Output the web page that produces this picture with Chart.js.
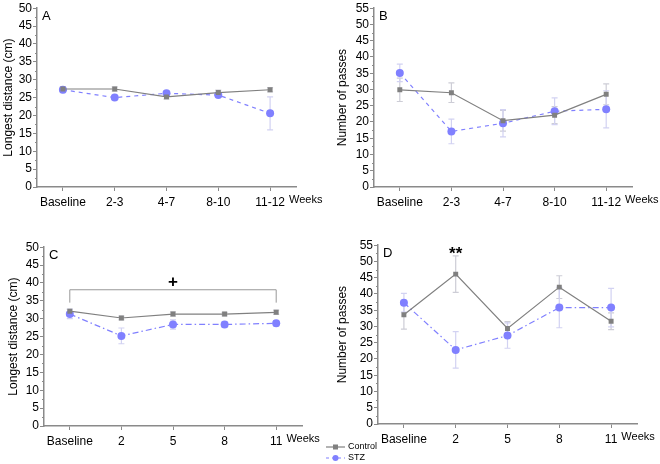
<!DOCTYPE html>
<html>
<head>
<meta charset="utf-8">
<script src="https://cdn.jsdelivr.net/npm/chart.js@4.4.1/dist/chart.umd.min.js"></script>
<style>
  body { margin: 0; background: #fff; }
  #wrap { position: relative; width: 660px; height: 464px; overflow: hidden; }
  canvas { position: absolute; }
  #legend { position: absolute; left: 326px; top: 441px; font: 9px "Liberation Sans", Arial, sans-serif; color: #000; line-height: 11px; }
  #legend div { display: flex; align-items: center; height: 11px; }
  #legend svg { margin-right: 3px; }
</style>
</head>
<body>
<div id="wrap">
  <canvas id="chartA" width="330" height="210" style="left:0;top:0"></canvas>
  <canvas id="chartB" width="330" height="210" style="left:330px;top:0"></canvas>
  <canvas id="chartC" width="330" height="210" style="left:0;top:239px"></canvas>
  <canvas id="chartD" width="330" height="210" style="left:330px;top:237px"></canvas>
  <div id="legend">
    <div><svg width="19" height="8"><line x1="0" y1="4" x2="19" y2="4" stroke="#808080" stroke-width="1.2"/><rect x="7" y="1.5" width="5" height="5" fill="#808080"/></svg>Control</div>
    <div><svg width="19" height="8"><line x1="0" y1="4" x2="19" y2="4" stroke="#8080ff" stroke-width="1.2" stroke-dasharray="3,3"/><circle cx="9.5" cy="4" r="3" fill="#8080ff"/></svg>STZ</div>
  </div>
</div>
<script>
// Graficas A-D: Control vs STZ

const weeksAB = ['Baseline', '2-3', '4-7', '8-10', '11-12'];
const weeksCD = ['Baseline', '2', '5', '8', '11'];

// A - longest distance
const controlA = [27.4, 27.4, 25.2, 26.4, 27.2];
const controlAErr = [0.7, 0.6, 0.6, 0.7, 0.6];
const stzA = [27.2, 25.0, 26.2, 25.7, 20.6];
const stzAErr = [0.8, 0.6, 0.7, 0.6, 4.6];

// B - number of passes
const controlB = [29.9, 29.0, 20.4, 22.1, 28.5];
const controlBErr = [3.6, 3.0, 3.2, 2.6, 3.2];
const stzB = [35.1, 17.1, 19.6, 23.3, 23.9];
const stzBErr = [2.7, 3.8, 4.2, 4.1, 5.7];

// C - longest distance
const controlC = [32.1, 30.2, 31.3, 31.3, 31.8];
const controlCErr = [0.6, 0.5, 0.6, 0.5, 0.6];
const stzC = [31.3, 25.2, 28.4, 28.4, 28.7];
const stzCErr = [1.3, 2.2, 1.3, 0.8, 0.8];

// D - number of passes
const controlD = [33.6, 46.1, 29.4, 42.1, 31.6];
const controlDErr = [4.4, 5.6, 2.1, 3.5, 2.6];
const stzD = [37.3, 22.8, 27.2, 35.8, 35.8];
const stzDErr = [2.9, 5.6, 3.9, 6.2, 5.9];

const GRAY = '#808080';
const BLUE = '#8080ff';
const AXIS = '#8a8a8a';
const FONT = '"Liberation Sans", Arial, sans-serif';

Chart.defaults.font.family = FONT;
Chart.defaults.color = '#000';

// error bars (drawn under the lines)
const errBars = {
  id: 'errbars',
  beforeDatasetsDraw(chart, args, opts) {
    const ctx = chart.ctx;
    const xs = chart.scales.x, ys = chart.scales.y;
    ctx.save();
    ctx.lineWidth = 1.2;
    chart.data.datasets.forEach((ds, di) => {
      const errs = opts.errs[di];
      ctx.strokeStyle = di === 0 ? '#cdcdd6' : '#d2d2f2';
      ds.data.forEach((p, i) => {
        const x = xs.getPixelForValue(p.x);
        const y1 = ys.getPixelForValue(p.y - errs[i]);
        const y2 = ys.getPixelForValue(p.y + errs[i]);
        ctx.beginPath();
        ctx.moveTo(x, y1); ctx.lineTo(x, y2);
        ctx.moveTo(x - 3, y1); ctx.lineTo(x + 3, y1);
        ctx.moveTo(x - 3, y2); ctx.lineTo(x + 3, y2);
        ctx.stroke();
      });
    });
    ctx.restore();
  }
};

// panel letter, "Weeks", minor ticks, significance marks
const marks = {
  id: 'marks',
  afterDraw(chart, args, opts) {
    const ctx = chart.ctx;
    const a = chart.chartArea;
    const xs = chart.scales.x, ys = chart.scales.y;
    const labels = opts.labels;
    ctx.save();
    // minor ticks
    ctx.strokeStyle = AXIS;
    ctx.lineWidth = 1;
    for (let v = 2.5; v < ys.max; v += 5) {
      const y = Math.round(ys.getPixelForValue(v)) + 0.5;
      ctx.beginPath();
      ctx.moveTo(a.left - 2, y); ctx.lineTo(a.left, y);
      ctx.stroke();
    }
    ctx.fillStyle = '#000';
    ctx.textBaseline = 'middle';
    ctx.textAlign = 'left';
    ctx.font = '13px ' + FONT;
    ctx.fillText(opts.letter, a.left + 5, a.top + 8);
    // "Weeks" just after the last tick label
    ctx.font = '12px ' + FONT;
    const last = labels.length - 1;
    const lastW = ctx.measureText(labels[last]).width;
    const wx = xs.getPixelForValue(last) + lastW / 2 + 4;
    ctx.font = '11px ' + FONT;
    ctx.fillText('Weeks', wx, a.bottom + 13);
    if (opts.bracket) {
      const b = opts.bracket;
      const x1 = xs.getPixelForValue(b.from), x2 = xs.getPixelForValue(b.to);
      const yt = ys.getPixelForValue(b.top), yb = ys.getPixelForValue(b.bottom);
      ctx.strokeStyle = '#999';
      ctx.lineWidth = 1;
      ctx.beginPath();
      ctx.moveTo(x1, yb); ctx.lineTo(x1, yt); ctx.lineTo(x2, yt); ctx.lineTo(x2, yb);
      ctx.stroke();
    }
    if (opts.sig) {
      const s = opts.sig;
      ctx.textAlign = 'center';
      ctx.font = 'bold 17px ' + FONT;
      ctx.fillText(s.text, xs.getPixelForValue(s.x), ys.getPixelForValue(s.y));
    }
    ctx.restore();
  }
};

function toPts(vals) {
  return vals.map((v, i) => ({ x: i, y: v }));
}

function renderPanel(canvasId, cfg) {
  const canvas = document.getElementById(canvasId);
  const labels = cfg.labels;
  new Chart(canvas, {
    type: 'line',
    data: {
      datasets: [
        {
          label: 'Control',
          data: toPts(cfg.control),
          borderColor: GRAY,
          backgroundColor: GRAY,
          borderWidth: 1.2,
          pointStyle: 'rect',
          pointRadius: 3.5,
          pointBorderWidth: 0,
          tension: 0
        },
        {
          label: 'STZ',
          data: toPts(cfg.stz),
          borderColor: BLUE,
          backgroundColor: BLUE,
          borderWidth: 1.2,
          borderDash: cfg.dash,
          pointStyle: 'circle',
          pointRadius: 4,
          pointBorderWidth: 0,
          tension: 0
        }
      ]
    },
    options: {
      responsive: false,
      animation: false,
      devicePixelRatio: 1,
      layout: { padding: { top: 7, right: cfg.padRight, left: 0, bottom: 0 } },
      plugins: {
        legend: { display: false },
        tooltip: { enabled: false },
        errbars: { errs: [cfg.controlErr, cfg.stzErr] },
        marks: { letter: cfg.letter, labels: labels, bracket: cfg.bracket, sig: cfg.sig }
      },
      scales: {
        x: {
          type: 'linear',
          min: -0.5,
          max: 4.5,
          afterBuildTicks: (s) => { s.ticks = labels.map((l, i) => ({ value: i })); },
          afterFit: (s) => { s.height = 23; },
          ticks: {
            callback: (val) => labels[val],
            font: { size: 12 },
            padding: 4,
            maxRotation: 0,
            autoSkip: false
          },
          grid: { drawOnChartArea: false, tickLength: 4, color: AXIS },
          border: { color: AXIS, width: 1.5 }
        },
        y: {
          min: 0,
          max: cfg.yMax,
          afterFit: (s) => { s.width = cfg.yWidth; },
          ticks: { stepSize: 5, font: { size: 12 }, padding: 1, autoSkip: false },
          grid: { drawOnChartArea: false, tickLength: 4, color: AXIS },
          border: { color: AXIS, width: 1.5 },
          title: {
            display: true,
            text: cfg.yTitle,
            font: { size: 12 },
            padding: { top: cfg.titlePad, bottom: 0 }
          }
        }
      }
    },
    plugins: [errBars, marks]
  });
}

renderPanel('chartA', {
  letter: 'A', labels: weeksAB, yMax: 50, yTitle: 'Longest distance (cm)',
  control: controlA, controlErr: controlAErr, stz: stzA, stzErr: stzAErr,
  dash: [4, 4], yWidth: 37, padRight: 34, titlePad: 1
});

renderPanel('chartB', {
  letter: 'B', labels: weeksAB, yMax: 55, yTitle: 'Number of passes',
  control: controlB, controlErr: controlBErr, stz: stzB, stzErr: stzBErr,
  dash: [4, 4], yWidth: 44, padRight: 28, titlePad: 5
});

renderPanel('chartC', {
  letter: 'C', labels: weeksCD, yMax: 50, yTitle: 'Longest distance (cm)',
  control: controlC, controlErr: controlCErr, stz: stzC, stzErr: stzCErr,
  dash: [6, 3, 1.5, 3], yWidth: 44, padRight: 28, titlePad: 6,
  bracket: { from: 0, to: 4, top: 38.1, bottom: 34.5 },
  sig: { text: '+', x: 2, y: 40.2 }
});

renderPanel('chartD', {
  letter: 'D', labels: weeksCD, yMax: 55, yTitle: 'Number of passes',
  control: controlD, controlErr: controlDErr, stz: stzD, stzErr: stzDErr,
  dash: [6, 3, 1.5, 3], yWidth: 48, padRight: 23, titlePad: 5,
  sig: { text: '**', x: 1, y: 52.3 }
});
</script>
</body>
</html>
